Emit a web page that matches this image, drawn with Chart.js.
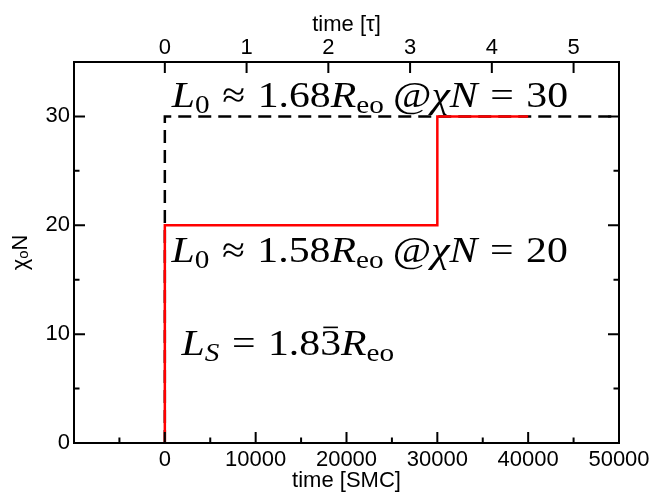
<!DOCTYPE html>
<html>
<head>
<meta charset="utf-8">
<script src="https://cdn.jsdelivr.net/npm/chart.js@4/dist/chart.umd.min.js"></script>
<style>
  html, body { margin: 0; padding: 0; background: #fff; }
  canvas { display: block; }
</style>
</head>
<body>
<canvas id="stepChart" width="654" height="499"></canvas>
<script>
// chi*N protocol vs. simulation time
const redTime = [0, 0, 30000, 30000, 40000];
const redChiN = [0, 20, 20, 30, 30];
const blackTime = [0, 0, 50000];
const blackChiN = [0, 30, 30];

const smcTicks = [0, 10000, 20000, 30000, 40000, 50000];
const tauTicks = [0, 1, 2, 3, 4, 5];
const chiTicks = [0, 10, 20, 30];
const smcPerTau = 9000;   // 1 tau ~ 9000 SMC

const axisFont = "'Liberation Sans', Arial, Helvetica, sans-serif";
const mathFont = "'Liberation Serif', 'Times New Roman', serif";

// math labels: [text, style] pieces, numbers are spaces in em
// style: i = italic, r = roman, s = roman subscript, si = italic subscript, b = roman with bar
const noteTexts = [
    [["L", "i"], ["0", "s"], 0.3, ["\u2248", "r"], 0.3, ["1.68", "r"], ["R", "i"], ["eo", "s"], 0.22, ["@", "r"], ["\u03c7", "i"], ["N", "i"], 0.3, ["=", "r"], 0.3, ["30", "r"]],
    [["L", "i"], ["0", "s"], 0.3, ["\u2248", "r"], 0.3, ["1.58", "r"], ["R", "i"], ["eo", "s"], 0.22, ["@", "r"], ["\u03c7", "i"], ["N", "i"], 0.3, ["=", "r"], 0.3, ["20", "r"]],
    [["L", "i"], ["S", "si"], 0.3, ["=", "r"], 0.3, ["1.8", "r"], ["3", "b"], ["R", "i"], ["eo", "s"]]
];
const noteX = [770, 740, 1840];
const noteY = [30.83, 16.6, 8.05];

function toPoints(xs, ys) {
    return xs.map((x, i) => ({ x: x, y: ys[i] }));
}

// draws one math label, stretched a bit to get the wide TeX look
function drawMath(ctx, x0, y0, segs, size, stretch) {
    ctx.save();
    ctx.translate(x0, y0);
    ctx.scale(stretch, 1);
    let x = 0;
    segs.forEach(s => {
        if (typeof s === "number") { x += s * size; return; }
        const txt = s[0], st = s[1];
        const sub = st === "s" || st === "si";
        const fs = sub ? size * 0.7 : size;
        const italic = st === "i" || st === "si";
        ctx.font = (italic ? "italic " : "") + fs + "px " + mathFont;
        const y = sub ? size * 0.15 : 0;
        ctx.fillText(txt, x, y);
        const w = ctx.measureText(txt).width;
        if (st === "b") {
            ctx.fillRect(x + w * 0.15, -size * 0.8, w * 0.7, size * 0.045);
        }
        x += w;
    });
    ctx.restore();
}

const framePlugin = {
    id: "frame",
    afterDatasetsDraw(chart) {
        const { ctx, chartArea: a, scales } = chart;
        ctx.save();
        ctx.strokeStyle = "#000";
        ctx.lineWidth = 2;
        ctx.beginPath();
        // bottom axis, major + minor ticks pointing inward
        smcTicks.forEach(v => {
            const px = scales.x.getPixelForValue(v);
            ctx.moveTo(px, a.bottom); ctx.lineTo(px, a.bottom - 11);
            const pm = scales.x.getPixelForValue(v - 5000);
            ctx.moveTo(pm, a.bottom); ctx.lineTo(pm, a.bottom - 5.5);
        });
        // top axis (tau)
        tauTicks.forEach(v => {
            const px = scales.x2.getPixelForValue(v);
            ctx.moveTo(px, a.top); ctx.lineTo(px, a.top + 11);
        });
        // left and right axes
        chiTicks.forEach(v => {
            const py = scales.y.getPixelForValue(v);
            ctx.moveTo(a.left, py); ctx.lineTo(a.left + 11, py);
            ctx.moveTo(a.right, py); ctx.lineTo(a.right - 11, py);
            const pm = scales.y.getPixelForValue(v + 5);
            ctx.moveTo(a.left, pm); ctx.lineTo(a.left + 5.5, pm);
            ctx.moveTo(a.right, pm); ctx.lineTo(a.right - 5.5, pm);
        });
        ctx.stroke();
        ctx.strokeRect(a.left, a.top, a.right - a.left, a.bottom - a.top);

        ctx.fillStyle = "#000";
        ctx.textBaseline = "alphabetic";
        ctx.textAlign = "left";
        noteTexts.forEach((segs, i) => {
            drawMath(ctx, scales.x.getPixelForValue(noteX[i]), scales.y.getPixelForValue(noteY[i]), segs, 36, 1.16);
        });
        ctx.restore();
    }
};

const tickFont = { family: axisFont, size: 22 };

new Chart(document.getElementById("stepChart").getContext("2d"), {
    type: "scatter",
    data: {
        datasets: [
            {
                data: toPoints(redTime, redChiN),
                showLine: true,
                borderColor: "#ff0000",
                borderWidth: 2.5,
                borderJoinStyle: "miter",
                pointRadius: 0,
                tension: 0,
                order: 0
            },
            {
                data: toPoints(blackTime, blackChiN),
                showLine: true,
                borderColor: "#000",
                borderWidth: 2.5,
                borderDash: [13, 7],
                pointRadius: 0,
                tension: 0,
                order: 1
            }
        ]
    },
    options: {
        responsive: false,
        animation: false,
        layout: { padding: { left: 0, right: 35, top: 0, bottom: 0 } },
        plugins: { legend: { display: false }, tooltip: { enabled: false } },
        scales: {
            x: {
                type: "linear",
                position: "bottom",
                min: -10000,
                max: 50000,
                afterBuildTicks: s => { s.ticks = smcTicks.map(v => ({ value: v })); },
                afterFit: s => { s.height = 56; },
                grid: { display: false, drawTicks: false },
                border: { display: false },
                ticks: { color: "#000", font: tickFont, padding: 4, maxRotation: 0, autoSkip: false, callback: v => String(v) },
                title: { display: true, text: "time [SMC]", color: "#000", font: tickFont, padding: { top: 0, bottom: 5 } }
            },
            x2: {
                type: "linear",
                position: "top",
                min: -10000 / smcPerTau,
                max: 50000 / smcPerTau,
                afterBuildTicks: s => { s.ticks = tauTicks.map(v => ({ value: v })); },
                afterFit: s => { s.height = 62; },
                grid: { display: false, drawTicks: false },
                border: { display: false },
                ticks: { color: "#000", font: tickFont, padding: 1, maxRotation: 0, autoSkip: false, callback: v => String(v) },
                title: { display: true, text: "time [\u03c4]", color: "#000", font: tickFont, padding: { top: 12, bottom: 0 } }
            },
            y: {
                type: "linear",
                min: 0,
                max: 35,
                afterBuildTicks: s => { s.ticks = chiTicks.map(v => ({ value: v })); },
                afterFit: s => { s.width = 74; },
                grid: { display: false, drawTicks: false },
                border: { display: false },
                ticks: { color: "#000", font: tickFont, padding: 4, callback: v => String(v) },
                title: { display: true, text: "\u03c7\u2092N", color: "#000", font: tickFont, padding: { top: 8, bottom: 0 } }
            }
        }
    },
    plugins: [framePlugin]
});
</script>
</body>
</html>
